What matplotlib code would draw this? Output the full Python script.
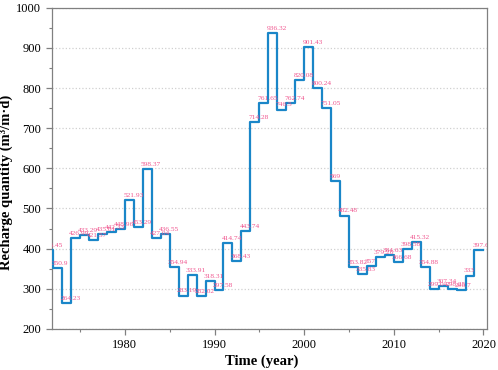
import matplotlib
matplotlib.use("Agg")
import matplotlib.pyplot as plt
from matplotlib.ticker import MultipleLocator

years = list(range(1971, 2020))
values = [396.45, 350.9, 264.23, 426.99, 433.29, 421.57, 435.61, 442.33, 448.96,
          521.93, 453.29, 598.37, 427.04, 436.55, 354.94, 283.19, 333.91, 282.02,
          318.31, 297.58, 414.74, 368.43, 443.74, 714.28, 761.65, 936.32, 746.5,
          762.74, 820.08, 901.43, 800.24, 751.05, 569, 482.48, 353.82, 335.83,
          357, 379.26, 384.63, 366.68, 398.58, 415.32, 354.88, 299.04, 307.34,
          298.25, 296.7, 333, 397.63]
end_year = 2020

plt.rcParams['font.family'] = ['Liberation Serif', 'DejaVu Serif']

fig = plt.figure(figsize=(4.98, 3.70), dpi=100)
ax = fig.add_axes([0.104, 0.111, 0.874, 0.868])

line_color = '#1a86c8'
label_color = '#f0568f'
gray = '#808080'

xs = years + [end_year]
ys = values + [values[-1]]
ax.step(xs, ys, where='post', color=line_color, lw=1.6, zorder=3)

for yr, v in zip(years, values):
    ax.annotate(f'{v:g}', (yr - 0.2, v), xytext=(0, 3.3), textcoords='offset points',
                ha='left', va='center', fontsize=5.3, color=label_color,
                annotation_clip=False, clip_on=True, zorder=4)

ax.set_xlim(1971.85, 2020.4)
ax.set_ylim(200, 1000)
ax.xaxis.set_major_locator(MultipleLocator(10))
ax.xaxis.set_minor_locator(MultipleLocator(5))
ax.yaxis.set_major_locator(MultipleLocator(100))
ax.yaxis.set_minor_locator(MultipleLocator(50))

ax.grid(axis='y', which='major', linestyle=':', color='#d0d0d0', linewidth=0.9)
ax.set_axisbelow(True)

for s in ax.spines.values():
    s.set_color(gray)
    s.set_linewidth(0.9)
ax.tick_params(which='both', direction='out', color=gray, labelsize=9, top=False, right=False)
ax.tick_params(which='major', length=4, width=0.9)
ax.tick_params(which='minor', length=2.5, width=0.8)

ax.set_xlabel('Time (year)', fontsize=10.5, fontweight='bold')
ax.set_ylabel('Recharge quantity (m³/m·d)', fontsize=10.5, fontweight='bold')
ax.xaxis.set_label_coords(0.482, -0.08)
ax.yaxis.set_label_coords(-0.088, 0.456)

fig.savefig('out.png', dpi=100)
